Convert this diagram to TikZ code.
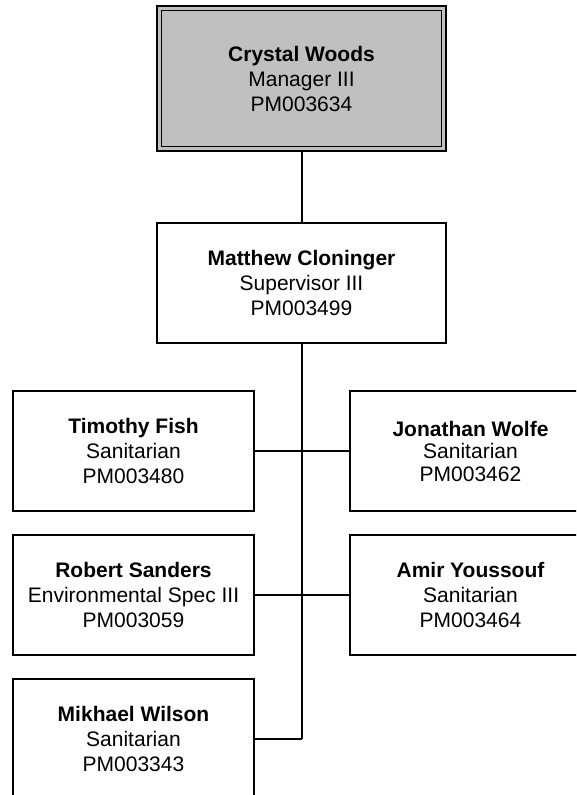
\documentclass[tikz,border=0pt]{standalone}
\usepackage{fontspec}
\setmainfont{Liberation Sans}
\definecolor{boxgray}{HTML}{C0C0C0}
\begin{document}
\begin{tikzpicture}[x=1pt,y=-1pt,
  person/.style={draw=black, line width=1.3pt, rectangle, minimum width=241pt, minimum height=120pt,
    inner sep=0pt, outer sep=0pt, align=center, font=\fontsize{21}{25}\selectfont},
  conn/.style={draw=black, line width=1.3pt}]
\clip (0,0) rectangle (576,795);
\fill[white] (0,0) rectangle (576,795);

\node[person, fill=boxgray, line width=1.6pt, minimum width=289pt, minimum height=145pt] (cw) at (301.5,78.5)
  {\textbf{Crystal Woods}\\Manager III\\PM003634};
\draw[line width=0.9pt] ([shift={(4.5,4.5)}]cw.north west) rectangle ([shift={(-4.5,-4.5)}]cw.south east);

\node[person, minimum width=289pt] (mc) at (301.5,283)
  {\textbf{Matthew Cloninger}\\Supervisor III\\PM003499};

\node[person] (tf) at (133.5,451) {\textbf{Timothy Fish}\\Sanitarian\\PM003480};
\node[person, font=\fontsize{21}{22.5}\selectfont, text depth=0pt] (jw) at (470.5,451) {\textbf{Jonathan Wolfe}\\Sanitarian\\PM003462};
\node[person] (rs) at (133.5,595) {\textbf{Robert Sanders}\\Environmental Spec III\\PM003059};
\node[person] (ay) at (470.5,595) {\textbf{Amir Youssouf}\\Sanitarian\\PM003464};
\node[person] (mw) at (133.5,739) {\textbf{Mikhael Wilson}\\Sanitarian\\PM003343};

\coordinate (j1) at (302,451);
\coordinate (j2) at (302,595);
\coordinate (j3) at (302,739);

\draw[conn] (cw.south -| j1) -- (mc.north -| j1);
\draw[conn] (mc.south -| j1) -- (j3);
\draw[conn] (tf.east) -- (jw.west);
\draw[conn] (rs.east) -- (ay.west);
\draw[conn] (mw.east) -- (j3);
\end{tikzpicture}
\end{document}
